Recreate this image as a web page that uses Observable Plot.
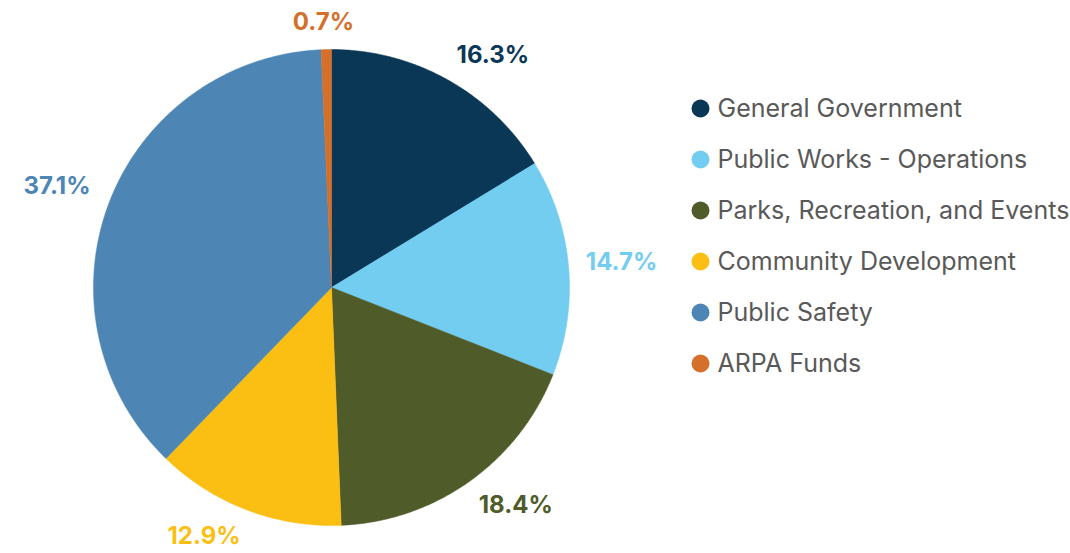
<!DOCTYPE html>
<html><head><meta charset="utf-8">
<script src="https://cdn.jsdelivr.net/npm/d3@7"></script>
<script src="https://cdn.jsdelivr.net/npm/@observablehq/plot@0.6"></script>
<style>body{margin:0;background:#fff;} #chart{width:1070px;height:553px;}</style>
</head><body><div id="chart"></div>
<script>
const categories = ["General Government","Public Works - Operations","Parks, Recreation, and Events","Community Development","Public Safety","ARPA Funds"];
const shares = [16.3, 14.7, 18.4, 12.9, 37.1, 0.7];
const colors = ["#0a3756","#72cdf0","#4f5b29","#fbbf14","#4d86b5","#d4702a"];

const W = 1070, H = 553;
const cx = 331, cy = 287, R = 238;
const pie = d3.pie().sort(null).value(d => d.value)(categories.map((c,i)=>({name:c,value:shares[i]})));

// polygon outlines for each slice
const slicePts = [];
pie.forEach(p => {
  const n = Math.max(2, Math.ceil((p.endAngle - p.startAngle) / 0.01));
  slicePts.push({name:p.data.name, x:cx, y:cy});
  for (let k=0;k<=n;k++){
    const a = p.startAngle + (p.endAngle-p.startAngle)*k/n;
    slicePts.push({name:p.data.name, x:cx+R*Math.sin(a), y:cy-R*Math.cos(a)});
  }
  slicePts.push({name:p.data.name, x:cx, y:cy});
});

// outside-end labels: anchor the box just outside the arc
const clamp = v => Math.max(-1, Math.min(1, v));
const labels = pie.map(p => {
  const a = (p.startAngle+p.endAngle)/2;
  const s = Math.sin(a), c = Math.cos(a);
  const g = 16, hw = 37, hh = 11;
  const px = cx + (R+g)*s, py = cy - (R+g)*c;
  return {name:p.data.name, text:p.data.value.toFixed(1)+"%",
          x: px + hw*clamp(3*s), y: py - hh*clamp(3*c)};
});

const legend = categories.map((c,i)=>({name:c, x:700, y:108+i*51}));

const color = {domain:categories, range:colors};
const chart = Plot.plot({
  width: W, height: H, margin: 0,
  x: {domain:[0,W], range:[0,W], axis:null},
  y: {domain:[0,H], range:[0,H], axis:null},
  color,
  style: {fontFamily: "Inter, 'Open Sans', sans-serif", background:"#fff"},
  marks: [
    Plot.line(slicePts, {x:"x", y:"y", z:"name", fill:"name", stroke:"name", strokeWidth:0.5, curve:"linear"}),
    Plot.text(labels, {x:"x", y:"y", text:"text", fill:"name", fontSize:24, fontWeight:"bold", textAnchor:"middle"}),
    Plot.dot(legend, {x:"x", y:"y", r:9, fill:"name", stroke:null}),
    Plot.text(legend, {x:d=>d.x+17, y:"y", text:"name", fill:"#595959", fontSize:25, textAnchor:"start"})
  ]
});
document.getElementById("chart").appendChild(chart);
</script></body></html>
